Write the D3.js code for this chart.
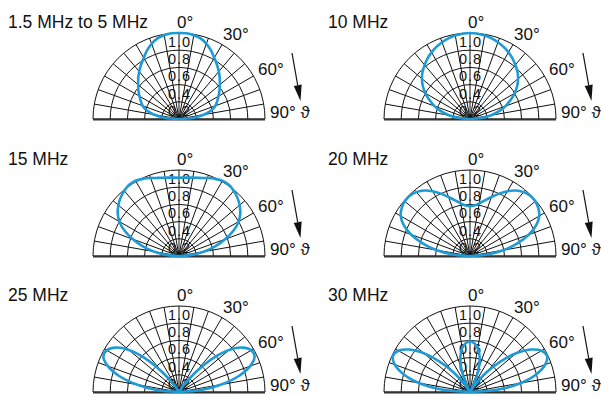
<!DOCTYPE html>
<html><head><meta charset="utf-8">
<script src="https://cdn.jsdelivr.net/npm/d3@7"></script>
<style>
html,body{margin:0;padding:0;background:#fff;}
text{font-family:"Liberation Sans",Arial,sans-serif;fill:#111;}
</style></head>
<body>
<svg id="c" width="601" height="397"></svg>
<script>
// ---- data ----
const titles = ["1.5 MHz to 5 MHz","10 MHz","15 MHz","20 MHz","25 MHz","30 MHz"];
const angles = [0,5,10,15,20,25,30,35,40,45,50,55,60,65,70,75,80,85,90];
const p1_5to5 = [1.0,1.0,0.99,0.97,0.93,0.88,0.82,0.77,0.72,0.67,0.62,0.575,0.53,0.49,0.45,0.39,0.3,0.17,0];
const p10 = [1.0,0.995,0.985,0.97,0.95,0.925,0.895,0.86,0.82,0.78,0.73,0.67,0.6,0.52,0.44,0.35,0.25,0.13,0];
const p15 = [0.91,0.915,0.925,0.94,0.965,0.99,1.01,1.01,0.99,0.96,0.92,0.87,0.8,0.7,0.57,0.44,0.3,0.15,0];
const p20 = [0.58,0.59,0.62,0.67,0.73,0.8,0.87,0.93,0.97,0.99,0.99,0.97,0.93,0.85,0.73,0.57,0.4,0.2,0];
const p25 = [0,0,0,0,0,0,0.02,0.1,0.3,0.55,0.76,0.9,0.97,0.97,0.88,0.72,0.5,0.26,0];
const p30 = [0.59,0.57,0.52,0.43,0.3,0.13,0.02,0.1,0.3,0.5,0.7,0.86,0.96,0.99,0.93,0.8,0.6,0.33,0];
const patterns = [p1_5to5,p10,p15,p20,p25,p30];
const ringValues = [0.2,0.4,0.6,0.8,1.0];
const ringLabels = ["0.2","0.4","0.6","0.8","1.0"];
const spokeAngles = d3.range(-90,91,10);
const angleLabels = ["0°","30°","60°","90° ϑ"];

// ---- layout ----
const R = 86;
const centers = [[179,119],[470,119],[179,256],[470,256],[179,392],[470,392]];
const svg = d3.select("#c");
const rScale = d3.scaleLinear().domain([0,1]).range([0,R]);
const toRad = d => d*Math.PI/180;
const blue = "#1e9bd7";

const line = d3.lineRadial()
  .angle(d=>toRad(d.a))
  .radius(d=>rScale(d.r))
  .curve(d3.curveCatmullRom.alpha(0.5));

patterns.forEach((pat,i)=>{
  const [cx,cy] = centers[i];
  const g = svg.append("g").attr("transform",`translate(${cx},${cy})`);
  // rings
  ringValues.forEach(v=>{
    const p = d3.path(); p.arc(0,0,rScale(v),-Math.PI,0);
    g.append("path").attr("d",p.toString()).attr("fill","none").attr("stroke","#111").attr("stroke-width",1);
  });
  // spokes
  spokeAngles.forEach(a=>{
    g.append("line").attr("x1",0).attr("y1",0)
      .attr("x2",rScale(1)*Math.sin(toRad(a))).attr("y2",-rScale(1)*Math.cos(toRad(a)))
      .attr("stroke","#111").attr("stroke-width",1);
  });
  // baseline
  g.append("line").attr("x1",-rScale(1)).attr("x2",rScale(1)).attr("y1",0.5).attr("y2",0.5)
    .attr("stroke","#333").attr("stroke-width",2);
  // ring labels
  ringValues.forEach((v,k)=>{
    g.append("text").attr("x",0.5).attr("y",-(rScale(v)-14))
      .attr("text-anchor","middle").attr("font-size",14.5).attr("letter-spacing",1)
      .text(ringLabels[k]);
  });
  // pattern
  const pts = [];
  for(let k=angles.length-1;k>=0;k--) pts.push({a:-angles[k], r:pat[k]});
  for(let k=1;k<angles.length;k++) pts.push({a:angles[k], r:pat[k]});
  g.append("path").attr("d",line(pts)).attr("fill","none")
    .attr("stroke",blue).attr("stroke-width",2.6).attr("stroke-linejoin","round");
  // angle labels
  const fs = 17;
  g.append("text").attr("x",-2).attr("y",-91).attr("font-size",fs).text(angleLabels[0]);
  g.append("text").attr("x",44).attr("y",-79).attr("font-size",fs).text(angleLabels[1]);
  g.append("text").attr("x",79).attr("y",-44).attr("font-size",fs).text(angleLabels[2]);
  g.append("text").attr("x",91).attr("y",-1).attr("font-size",fs).text(angleLabels[3]);
  // arrow
  const x1=113,y1=-66,x2=121.5,y2=-18;
  const ang = Math.atan2(y2-y1,x2-x1);
  const hl=16, hw=4;
  const bx = x2-hl*Math.cos(ang), by = y2-hl*Math.sin(ang);
  g.append("line").attr("x1",x1).attr("y1",y1).attr("x2",bx).attr("y2",by).attr("stroke","#111").attr("stroke-width",1.2);
  g.append("path").attr("d",`M${x2},${y2}L${bx+hw*Math.sin(ang)},${by-hw*Math.cos(ang)}L${bx-hw*Math.sin(ang)},${by+hw*Math.cos(ang)}Z`).attr("fill","#111");
  // title
  svg.append("text").attr("x",i%2===0?8:328).attr("y",cy-91).attr("font-size",17.5).text(titles[i]);
});
</script>
</body></html>
